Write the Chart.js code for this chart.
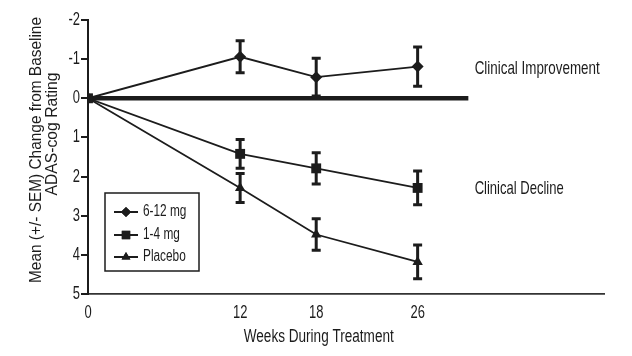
<!DOCTYPE html>
<html>
<head>
<meta charset="utf-8">
<script src="https://cdn.jsdelivr.net/npm/chart.js@4/dist/chart.umd.min.js"></script>
<style>
  html, body { margin: 0; padding: 0; background: #fff; }
  #wrap { width: 632px; height: 356px; position: relative; }
</style>
</head>
<body>
<div id="wrap"><canvas id="c" width="632" height="356"></canvas></div>
<script>
// ---- data ----
const weeks = [0, 12, 18, 26];
const tickWeeks = [0, 12, 18, 26];
const yTicks = [-2, -1, 0, 1, 2, 3, 4, 5];
const highDose = [0, -1.06, -0.54, -0.81];
const highDoseSem = [0, 0.41, 0.48, 0.50];
const lowDose = [0, 1.42, 1.79, 2.29];
const lowDoseSem = [0, 0.37, 0.40, 0.43];
const placebo = [0, 2.29, 3.48, 4.18];
const placeboSem = [0, 0.37, 0.40, 0.43];
const seriesNames = ['6-12 mg', '1-4 mg', 'Placebo'];
const baselineX = [0, 30];
const baselineY = [0, 0];
const notes = [
  { text: 'Clinical Improvement', x: 30.5, y: -0.74, w: 125 },
  { text: 'Clinical Decline', x: 30.5, y: 2.32, w: 89 }
];
const xTitle = 'Weeks During Treatment';
const yTitleLines = ['Mean (+/- SEM) Change from Baseline', 'ADAS-cog Rating'];

const INK = '#1c1c1c';
const FONT = '"Liberation Sans", Arial, sans-serif';

const pts = (xs, ys) => xs.map((x, i) => ({ x: x, y: ys[i] }));

// condensed text: squeeze horizontally either by factor sx, or to fit width w
function txt(ctx, s, x, y, size, align, sx, rot, w) {
  ctx.save();
  ctx.font = size + 'px ' + FONT;
  if (w) sx = w / ctx.measureText(s).width;
  ctx.translate(x, y);
  if (rot) ctx.rotate(rot);
  ctx.scale(sx, 1);
  ctx.textAlign = align;
  ctx.textBaseline = 'middle';
  ctx.fillText(s, 0, 0);
  ctx.restore();
}

const errorBars = {
  id: 'errorBars',
  afterDatasetsDraw(chart) {
    const ctx = chart.ctx, xs = chart.scales.x, ys = chart.scales.y;
    ctx.save();
    ctx.strokeStyle = INK;
    ctx.lineWidth = 3;
    chart.data.datasets.forEach(ds => {
      if (!ds.sem) return;
      ds.data.forEach((p, i) => {
        const s = ds.sem[i];
        if (!s) return;
        const px = xs.getPixelForValue(p.x);
        const y1 = ys.getPixelForValue(p.y - s);
        const y2 = ys.getPixelForValue(p.y + s);
        ctx.beginPath();
        ctx.moveTo(px, y1); ctx.lineTo(px, y2);
        ctx.moveTo(px - 4.5, y1); ctx.lineTo(px + 4.5, y1);
        ctx.moveTo(px - 4.5, y2); ctx.lineTo(px + 4.5, y2);
        ctx.stroke();
      });
    });
    ctx.restore();
  }
};

const extras = {
  id: 'extras',
  afterDraw(chart) {
    const ctx = chart.ctx, xs = chart.scales.x, ys = chart.scales.y;
    ctx.save();
    ctx.fillStyle = INK;
    // tick labels
    ys.ticks.forEach(t => txt(ctx, String(t.value), 80, ys.getPixelForValue(t.value), 18, 'right', 0.72));
    xs.ticks.forEach(t => txt(ctx, String(t.value), xs.getPixelForValue(t.value), 313, 18, 'center', 0.72));
    // annotations
    notes.forEach(n => txt(ctx, n.text, xs.getPixelForValue(n.x), ys.getPixelForValue(n.y), 18.5, 'left', 1, 0, n.w));
    // x title
    txt(ctx, xTitle, xs.getPixelForValue(18.2), 337, 18, 'center', 1, 0, 150);
    // y title
    txt(ctx, yTitleLines[0], 36, 150, 17, 'center', 1, -Math.PI / 2, 266);
    txt(ctx, yTitleLines[1], 52, 134, 17, 'center', 1, -Math.PI / 2, 123);
    // legend
    const bx = 105, by = 193, bw = 94, bh = 78;
    ctx.lineWidth = 1.5;
    ctx.strokeStyle = INK;
    ctx.strokeRect(bx, by, bw, bh);
    const rowsY = [212, 235, 257];
    chart.data.datasets.forEach(ds => {
      if (!ds.sem) return;
      const yy = rowsY[ds.legendIndex];
      ctx.lineWidth = 2;
      ctx.beginPath(); ctx.moveTo(114, yy); ctx.lineTo(138, yy); ctx.stroke();
      Chart.helpers.drawPoint(ctx, { pointStyle: ds.pointStyle, radius: ds.pointRadius * 0.85, rotation: 0, borderWidth: 0 }, 126, yy);
      ctx.fill();
      txt(ctx, ds.label, 143, yy, 16, 'left', 0.74);
    });
    ctx.restore();
  }
};

new Chart(document.getElementById('c'), {
  type: 'line',
  data: {
    datasets: [
      { label: seriesNames[1], legendIndex: 1, data: pts(weeks, lowDose), sem: lowDoseSem, pointStyle: 'rect', pointRadius: 7, order: 0 },
      { label: seriesNames[0], legendIndex: 0, data: pts(weeks, highDose), sem: highDoseSem, pointStyle: 'rectRot', pointRadius: 6, order: 1 },
      { label: seriesNames[2], legendIndex: 2, data: pts(weeks, placebo), sem: placeboSem, pointStyle: 'triangle', pointRadius: 6, order: 2 },
      { label: 'baseline', data: pts(baselineX, baselineY), borderWidth: 4.5, pointRadius: 0, order: 3 }
    ].map(d => Object.assign({ borderColor: INK, backgroundColor: INK, pointBackgroundColor: INK, pointBorderColor: INK, borderWidth: 1.8, pointBorderWidth: 0, tension: 0, fill: false }, d))
  },
  options: {
    responsive: false,
    animation: false,
    events: [],
    layout: { padding: { left: 0, top: 20, right: 28, bottom: 0 } },
    plugins: { legend: { display: false }, tooltip: { enabled: false } },
    scales: {
      x: {
        type: 'linear', min: 0, max: 40.7,
        afterBuildTicks: s => { s.ticks = tickWeeks.map(v => ({ value: v })); },
        afterFit: s => { s.height = 62; },
        grid: { display: false, drawTicks: false },
        border: { display: true, color: '#333', width: 1.8 },
        ticks: { display: false }
      },
      y: {
        min: -2, max: 5, reverse: true,
        afterBuildTicks: s => { s.ticks = yTicks.map(v => ({ value: v })); },
        afterFit: s => { s.width = 88; },
        grid: { drawOnChartArea: false, drawTicks: true, tickLength: 7, color: INK, lineWidth: 2 },
        border: { display: true, color: INK, width: 2 },
        ticks: { display: false }
      }
    }
  },
  plugins: [errorBars, extras]
});
</script>
</body>
</html>
